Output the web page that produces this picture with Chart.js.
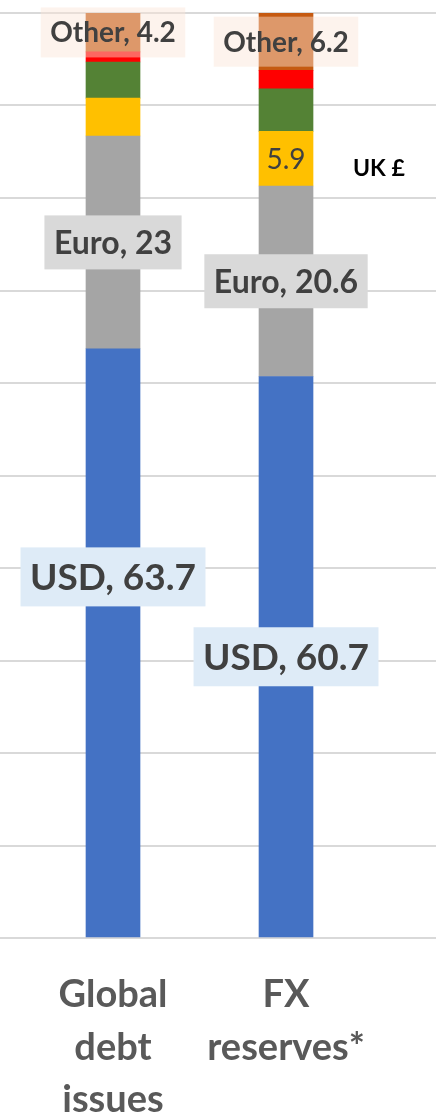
<!DOCTYPE html>
<html>
<head>
<meta charset="utf-8">
<script src="https://cdn.jsdelivr.net/npm/chart.js@4.4.0/dist/chart.umd.min.js"></script>
<style>
  html, body { margin: 0; padding: 0; background: #fff; overflow: hidden; }
  #wrap { width: 436px; height: 1117px; }
</style>
</head>
<body>
<div id="wrap"><canvas id="chart"></canvas></div>
<script>
// shares in %
const categories = [['Global', 'debt', 'issues'], ['FX', 'reserves*']];
const usd = [63.7, 60.7];
const euro = [23, 20.6];
const pound = [4.1, 5.9];
const yen = [3.9, 4.6];
const yuan = [1.1, 2.0];
const other = [4.2, 6.2];
const yMin = 0, yMax = 100, yStep = 10;

const toPoints = vals => vals.map((v, i) => ({ x: i, y: v }));

const series = [
  { label: 'USD', data: usd, color: '#4472c4' },
  { label: 'Euro', data: euro, color: '#a5a5a5' },
  { label: 'UK £', data: pound, color: '#ffc000' },
  { label: 'Yen', data: yen, color: '#548235' },
  { label: 'Yuan', data: yuan, color: '#ff0000' },
  { label: 'Other', data: other, color: '#c55a11' },
];

// which bars get a label and how it looks
const labelStyles = {
  'USD':   { bars: [0, 1], named: true, size: 37, bold: true, box: '#deebf7', shift: [-66, 0] },
  'Euro':  { bars: [0, 1], named: true, size: 32, bold: true, box: '#d9d9d9' },
  'UK £':  { bars: [1], named: false, size: 28, bold: false, box: null },
  'Other': { bars: [0, 1], named: true, size: 28, bold: true, box: 'rgba(251,229,214,0.45)' },
};

const segLabels = {
  id: 'segLabels',
  afterDatasetsDraw(chart) {
    const ctx = chart.ctx;
    chart.data.datasets.forEach((ds, di) => {
      const st = labelStyles[ds.label];
      if (!st) return;
      const meta = chart.getDatasetMeta(di);
      st.bars.forEach(i => {
        const bar = meta.data[i];
        const v = ds.data[i].y;
        const txt = st.named ? ds.label + ', ' + v : String(v);
        const cx = bar.x;
        const cy = (bar.y + bar.base) / 2 + (st.shift ? st.shift[i] : 0);
        ctx.save();
        ctx.font = (st.bold ? 'bold ' : '') + st.size + 'px Lato';
        const w = ctx.measureText(txt).width;
        if (st.box) {
          const bw = w + 19, bh = st.size + 22;
          ctx.fillStyle = st.box;
          ctx.fillRect(cx - bw / 2, cy - bh / 2, bw, bh);
        }
        ctx.fillStyle = '#404040';
        ctx.textAlign = 'center';
        ctx.textBaseline = 'middle';
        ctx.fillText(txt, cx, cy + 1);
        if (ds.label === 'UK £') {
          // series name written beside the bar
          ctx.font = 'bold 23px Lato';
          ctx.fillStyle = '#000';
          ctx.textAlign = 'left';
          ctx.fillText('UK £', cx + bar.width / 2 + 40, cy + 10);
        }
        ctx.restore();
      });
    });
  }
};

new Chart(document.getElementById('chart'), {
  type: 'bar',
  data: {
    datasets: series.map(s => ({
      label: s.label,
      data: toPoints(s.data),
      backgroundColor: s.color,
      borderWidth: 0,
      barThickness: 54,
    })),
  },
  options: {
    responsive: true,
    maintainAspectRatio: false,
    animation: false,
    layout: { padding: { top: 13, left: 0, right: 0, bottom: 0 } },
    plugins: {
      legend: { display: false },
      tooltip: { enabled: false },
    },
    scales: {
      x: {
        type: 'linear',
        stacked: true,
        offset: false,
        min: -0.6532,
        max: 1.867,
        grid: { display: false },
        border: { display: false },
        afterBuildTicks: scale => {
          scale.ticks = categories.map((c, i) => ({ value: i }));
        },
        afterFit: scale => {
          scale.height = 179;
          scale.paddingLeft = 0;
          scale.paddingRight = 0;
        },
        ticks: {
          autoSkip: false,
          maxRotation: 0,
          padding: 23,
          color: '#595959',
          font: { family: 'Lato', size: 38, weight: 'bold', lineHeight: 1.38 },
          callback: v => categories[v],
        },
      },
      y: {
        stacked: true,
        min: yMin,
        max: yMax,
        border: { display: false },
        grid: { color: '#d9d9d9', lineWidth: 2, drawTicks: false },
        ticks: { display: false, stepSize: yStep },
        afterFit: scale => { scale.width = 0; },
      },
    },
  },
  plugins: [segLabels],
});
</script>
</body>
</html>
